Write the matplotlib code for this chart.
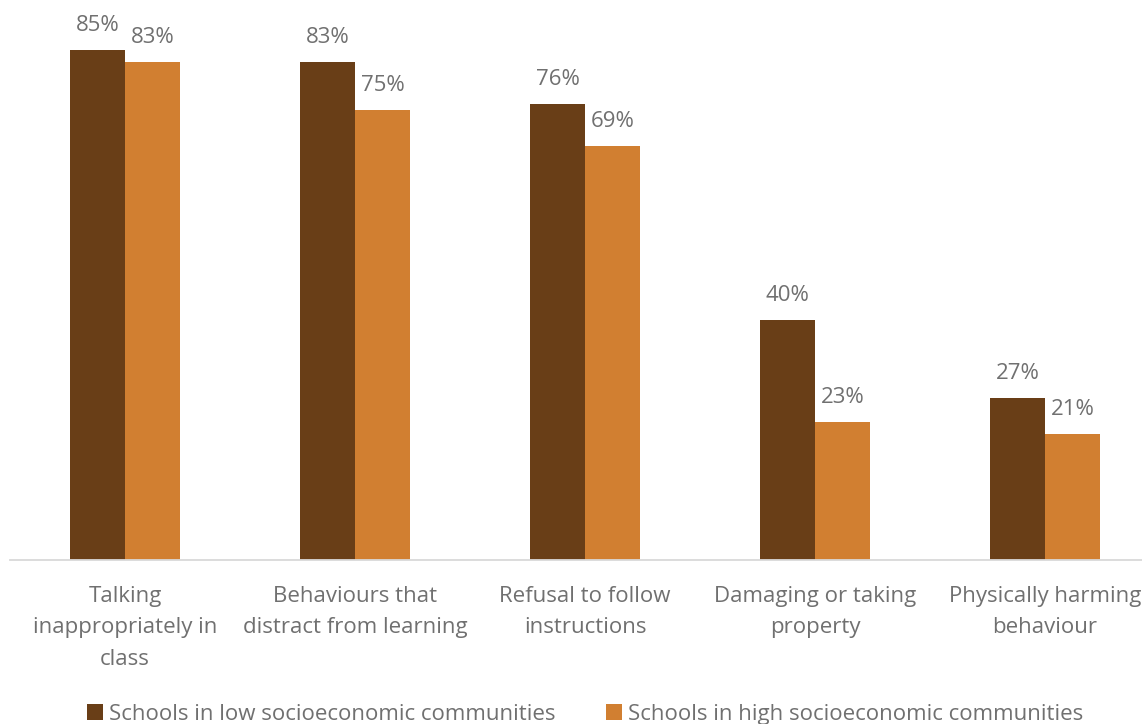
import matplotlib.pyplot as plt
import numpy as np

plt.rcParams['font.family'] = ['Open Sans', 'DejaVu Sans']

categories = ["Talking\ninappropriately in\nclass",
              "Behaviours that\ndistract from learning",
              "Refusal to follow\ninstructions",
              "Damaging or taking\nproperty",
              "Physically harming\nbehaviour"]
low_ses = [85, 83, 76, 40, 27]
high_ses = [83, 75, 69, 23, 21]
series_names = ["Schools in low socioeconomic communities",
                "Schools in high socioeconomic communities"]

dark = "#693E17"
orange = "#D17F31"
grey = "#707070"

W, H = 1142, 724
fig = plt.figure(figsize=(W / 100, H / 100), dpi=100)
ax = fig.add_axes([10 / W, (H - 560) / H, 1150 / W, 560 / H])

x = np.arange(len(categories))
bw = 0.239
b1 = ax.bar(x - bw / 2, low_ses, bw, color=dark, label=series_names[0])
b2 = ax.bar(x + bw / 2, high_ses, bw, color=orange, label=series_names[1])

for bars in (b1, b2):
    for r in bars:
        ax.annotate(f"{r.get_height():.0f}%",
                    (r.get_x() + r.get_width() / 2, r.get_height()),
                    xytext=(0, 10), textcoords="offset points",
                    ha="center", va="bottom", fontsize=16, color=grey)

ax.set_xlim(-0.5, len(categories) - 0.5)
ax.set_ylim(0, 93.3)
ax.set_yticks([])
ax.set_xticks(x)
ax.set_xticklabels(categories, fontsize=16, color=grey, linespacing=1.63)
ax.tick_params(axis="x", length=0, pad=19)
for s in ["top", "right", "left"]:
    ax.spines[s].set_visible(False)
ax.spines["bottom"].set_color("#D9D9D9")
ax.spines["bottom"].set_linewidth(1.3)

fig.legend(loc="lower center", bbox_to_anchor=(585 / W, -1 / H), ncol=2,
           frameon=False, fontsize=16, labelcolor=grey,
           handlelength=0.73, handleheight=0.73, handletextpad=0.25,
           columnspacing=2.3, borderaxespad=0, borderpad=0)

fig.savefig("out.png", dpi=100)
